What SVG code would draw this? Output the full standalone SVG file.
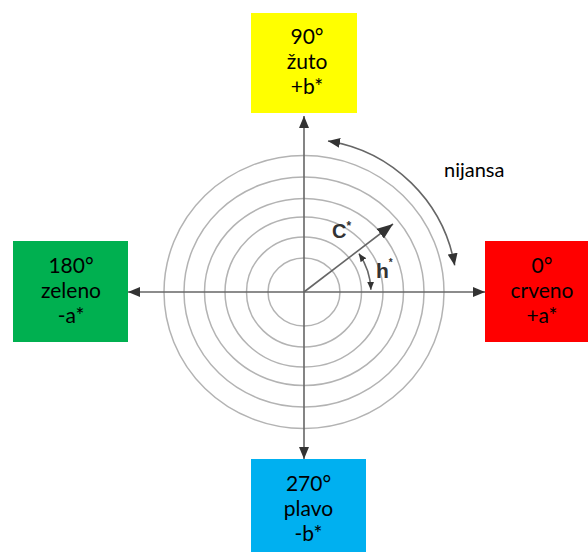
<svg xmlns="http://www.w3.org/2000/svg" width="588" height="552" viewBox="0 0 588 552">
<style>
.box text{font-family:Lato,"Liberation Sans",sans-serif;font-size:21px;fill:#000;text-anchor:middle}
.ring{fill:none;stroke:#b3b3b3;stroke-width:1.5}
.axis{stroke:#666;stroke-width:1.6;fill:none}
.lbl{font-family:"Liberation Sans",Arial,sans-serif;font-weight:bold;fill:#333}
</style>
<defs>
<marker id="ah" viewBox="0 0 12 10" refX="12" refY="5" markerWidth="12" markerHeight="10" markerUnits="userSpaceOnUse" orient="auto-start-reverse"><path d="M0,0 L12,5 L0,10 z" fill="#333"/></marker>
<marker id="big" viewBox="0 0 16 12" refX="16" refY="6" markerWidth="16" markerHeight="12" markerUnits="userSpaceOnUse" orient="auto"><path d="M0,0 L16,6 L0,12 z" fill="#333"/></marker>
<marker id="sm" viewBox="0 0 8 7" refX="8" refY="3.5" markerWidth="8" markerHeight="7" markerUnits="userSpaceOnUse" orient="auto-start-reverse"><path d="M0,0 L8,3.5 L0,7 z" fill="#333"/></marker>
</defs>
<rect width="588" height="552" fill="#fff"/>
<g id="rings">
<ellipse class="ring" cx="304" cy="292" rx="140" ry="136.5"/>
<ellipse class="ring" cx="304" cy="292" rx="120" ry="115"/>
<ellipse class="ring" cx="304" cy="292" rx="99.5" ry="93.5"/>
<ellipse class="ring" cx="304" cy="292" rx="79" ry="75"/>
<ellipse class="ring" cx="304" cy="292" rx="57.5" ry="55"/>
<ellipse class="ring" cx="304" cy="292" rx="36" ry="34"/>
</g>
<g id="connectors">
<line class="axis" x1="304" y1="292" x2="304" y2="116" marker-end="url(#ah)"/>
<line class="axis" x1="304" y1="292" x2="304" y2="459" marker-end="url(#ah)"/>
<line class="axis" x1="304" y1="292" x2="128" y2="292" marker-end="url(#ah)"/>
<line class="axis" x1="304" y1="292" x2="485" y2="292" marker-end="url(#ah)"/>
<line class="axis" x1="304" y1="292" x2="393" y2="224" stroke="#444" stroke-width="2" marker-end="url(#big)"/>
<path class="axis" d="M370.9,289.7 A67,67 0 0 0 358.9,253.6" stroke="#999" stroke-width="1" marker-start="url(#sm)" marker-end="url(#sm)"/>
<path class="axis" d="M328,141 A153,153 0 0 1 454.7,265.4" stroke="#555" marker-start="url(#ah)" marker-end="url(#ah)"/>
</g>
<g id="labels">
<text class="lbl" x="332" y="238" font-size="20">C<tspan font-size="12" dy="-8">*</tspan></text>
<text class="lbl" x="376" y="278" font-size="21">h<tspan font-size="10" dy="-12">*</tspan></text>
<text x="444" y="177" font-family="Lato,'Liberation Sans',sans-serif" font-size="20" fill="#000">nijansa</text>
</g>
<g id="n90" class="box">
<rect x="251" y="13" width="106" height="100" fill="#ffff00"/>
<text x="307" y="44">90°</text>
<text x="307" y="69">žuto</text>
<text x="307" y="94">+b*</text>
</g>
<g id="n180" class="box">
<rect x="13" y="241" width="115" height="101" fill="#00b050"/>
<text x="71" y="273">180°</text>
<text x="71" y="298">zeleno</text>
<text x="71" y="323">-a*</text>
</g>
<g id="n0" class="box">
<rect x="485" y="241" width="103" height="101" fill="#ff0000"/>
<text x="542" y="273">0°</text>
<text x="542" y="298">crveno</text>
<text x="542" y="323">+a*</text>
</g>
<g id="n270" class="box">
<rect x="251" y="459" width="115" height="93" fill="#00b0f0"/>
<text x="308.5" y="491">270°</text>
<text x="308.5" y="516">plavo</text>
<text x="308.5" y="541">-b*</text>
</g>
</svg>
